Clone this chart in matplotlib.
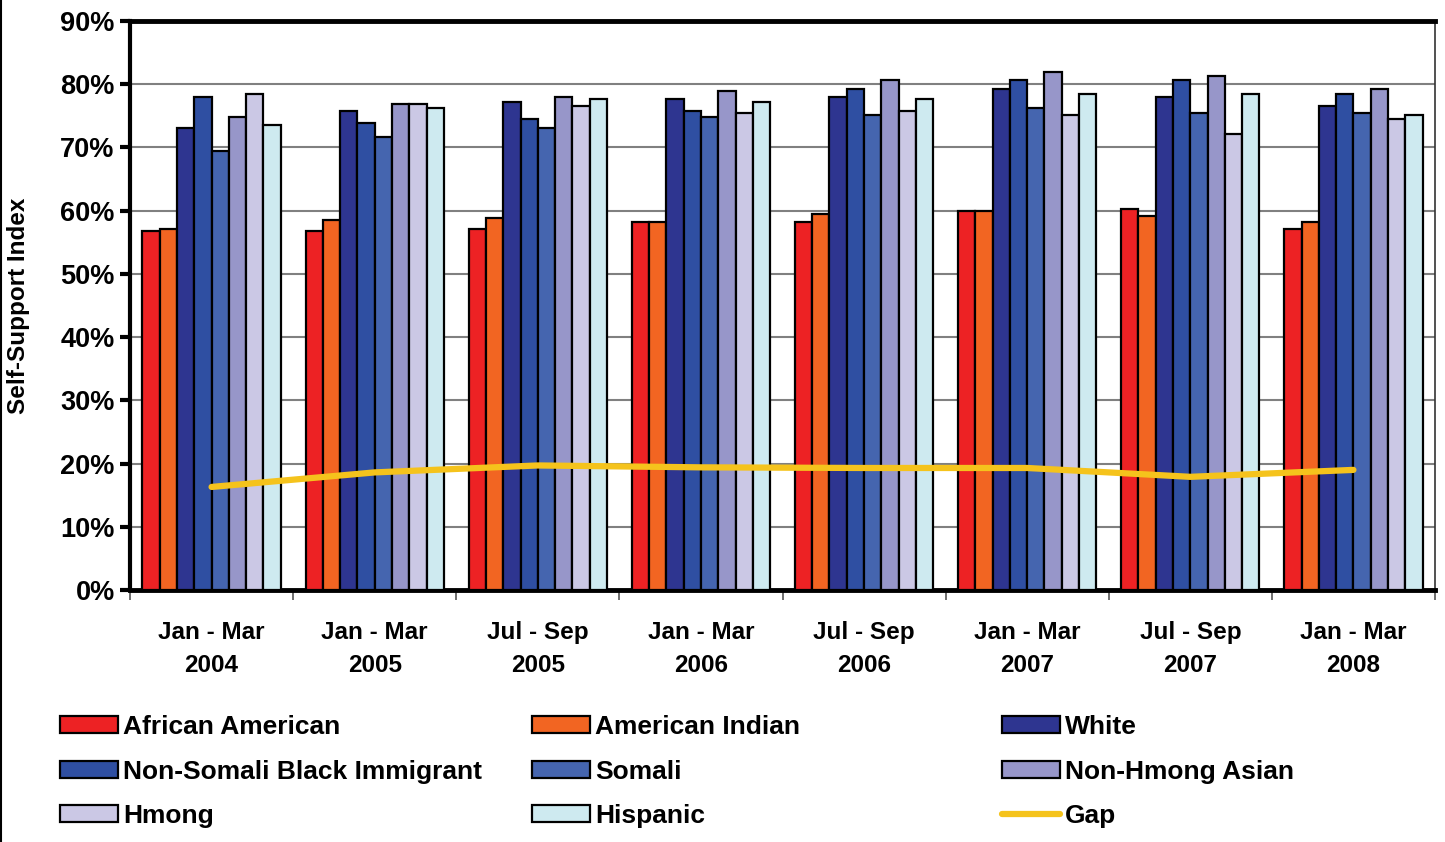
import matplotlib
matplotlib.use("Agg")
import matplotlib.pyplot as plt
from matplotlib.lines import Line2D
from matplotlib.ticker import FixedLocator, PercentFormatter
import numpy as np

plt.rcParams['font.family'] = ['Liberation Sans', 'DejaVu Sans']
plt.rcParams['font.weight'] = 'bold'

# quarters on the x axis
periods = ["Jan - Mar\n2004", "Jan - Mar\n2005", "Jul - Sep\n2005", "Jan - Mar\n2006",
           "Jul - Sep\n2006", "Jan - Mar\n2007", "Jul - Sep\n2007", "Jan - Mar\n2008"]

# self-support index (%)
african_american = [56.8, 56.8, 57.1, 58.2, 58.2, 59.9, 60.2, 57.1]
american_indian = [57.1, 58.5, 58.8, 58.2, 59.5, 59.9, 59.1, 58.2]
white = [73.1, 75.8, 77.2, 77.6, 77.9, 79.2, 77.9, 76.5]
non_somali_black = [77.9, 73.8, 74.5, 75.8, 79.2, 80.6, 80.6, 78.5]
somali = [69.4, 71.7, 73.1, 74.8, 75.2, 76.2, 75.5, 75.5]
non_hmong_asian = [74.8, 76.8, 77.9, 78.9, 80.6, 82.0, 81.3, 79.2]
hmong = [78.5, 76.8, 76.5, 75.5, 75.8, 75.2, 72.1, 74.5]
hispanic = [73.5, 76.2, 77.6, 77.2, 77.6, 78.5, 78.5, 75.2]
gap = [16.3, 18.6, 19.7, 19.4, 19.3, 19.3, 17.9, 19.0]

series_names = ["African American", "American Indian", "White", "Non-Somali Black Immigrant",
                "Somali", "Non-Hmong Asian", "Hmong", "Hispanic"]
series_vals = [african_american, american_indian, white, non_somali_black,
               somali, non_hmong_asian, hmong, hispanic]
colors = ["#ED2224", "#F26522", "#2E3590", "#2F4FA2", "#4565AF", "#9796C9", "#CBC8E5", "#CEEAF0"]
gap_color = "#F5C31C"

fig = plt.figure(figsize=(14.45, 8.42), dpi=100)
ax = fig.add_axes([130/1445, 1-590/842, 1305/1445, 569/842])

x = np.arange(len(periods))
bw = 0.106
n = len(series_vals)
handles = []
for i, (name, vals, c) in enumerate(zip(series_names, series_vals, colors)):
    off = (i - (n-1)/2) * bw
    bars = ax.bar(x + off, vals, width=bw, color=c, edgecolor="black", linewidth=1.6,
                  label=name, zorder=3)
    handles.append(bars)

gap_line, = ax.plot(x, gap, color=gap_color, lw=4.5, solid_capstyle='round', zorder=4, label="Gap")

ax.set_xlim(-0.5, len(periods) - 0.5)
ax.set_ylim(0, 90)
ax.yaxis.set_major_locator(FixedLocator(np.arange(0, 91, 10)))
ax.yaxis.set_major_formatter(PercentFormatter(decimals=0))
ax.grid(axis='y', color="#808080", linewidth=1.5, zorder=0)
ax.set_axisbelow(True)

# category boundaries as major ticks, labels at centers
ax.xaxis.set_major_locator(FixedLocator(np.arange(-0.5, len(periods), 1.0)))
ax.xaxis.set_minor_locator(FixedLocator(x))
ax.set_xticklabels([""] * (len(periods) + 1))
ax.set_xticklabels(periods, minor=True, fontsize=17.5, fontweight='bold', linespacing=1.58)
ax.tick_params(axis='x', which='major', length=7, width=1.2, color="#555555", direction='out')
ax.tick_params(axis='x', which='minor', length=0, pad=22)
ax.tick_params(axis='y', length=7, width=3, direction='out', labelsize=19.5, pad=4)
for lbl in ax.get_yticklabels():
    lbl.set_fontweight('bold')

ax.spines['left'].set_linewidth(3)
ax.spines['bottom'].set_linewidth(3.5)
ax.spines['top'].set_linewidth(3.5)
ax.spines['right'].set_linewidth(1.2)
ax.spines['right'].set_color("#333333")

ax.set_ylabel("Self-Support Index", fontsize=17.5, fontweight='bold', labelpad=22)

# legend in three columns, row-wise order like the original
cols = [[0, 3, 6], [1, 4, 7], [2, 5, 8]]
all_handles = handles + [gap_line]
all_labels = series_names + ["Gap"]
col_x = [60, 532, 1002]
for cx, idxs in zip(col_x, cols):
    leg = fig.legend([all_handles[k] for k in idxs], [all_labels[k] for k in idxs],
                     loc='upper left', bbox_to_anchor=(cx/1445, 1-715/842),
                     frameon=False, fontsize=19, handlelength=2.2, handleheight=0.6,
                     handletextpad=0.2, labelspacing=0.78, borderaxespad=0, borderpad=0)
    for t in leg.get_texts():
        t.set_fontweight('bold')

# thin frame line along the left edge of the figure
fig.add_artist(Line2D([0.001, 0.001], [0, 1], transform=fig.transFigure, color="black", lw=1.5))

fig.savefig("out.png", dpi=100)
